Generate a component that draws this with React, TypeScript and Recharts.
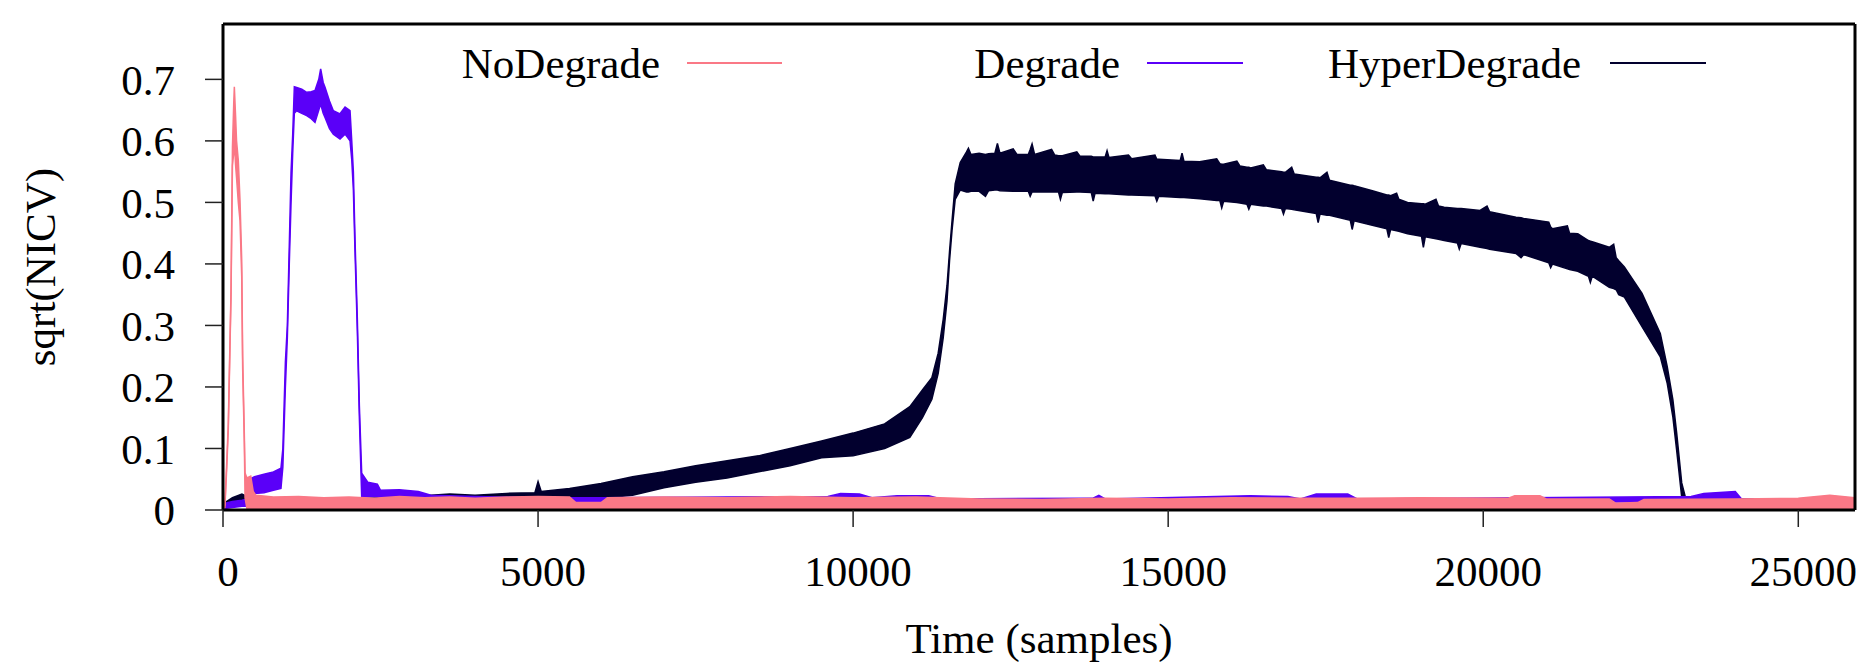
import React from 'react';
import { ComposedChart, Area, XAxis, YAxis } from 'recharts';

const FONT = "'Liberation Serif', 'Times New Roman', serif";

// ---- categories / ticks ----
const X_TICKS = [0, 5000, 10000, 15000, 20000, 25000];
const Y_TICKS = [0, 0.1, 0.2, 0.3, 0.4, 0.5, 0.6, 0.7];
const X_DOMAIN = [0, 25900];
const Y_DOMAIN = [0, 0.79];

const SERIES_NAMES = ['NoDegrade', 'Degrade', 'HyperDegrade'];
const SERIES_COLORS = ['#fa7886', '#5a00f8', '#02002e'];

// ---- series values: [sample, low envelope, high envelope] ----
const noDegrade: number[][] = [
  [0, 0.0, 0.004], [30, 0.004, 0.008], [60, 0.07, 0.08], [84, 0.13, 0.14],
  [127, 0.345, 0.355], [150, 0.56, 0.59], [170, 0.58, 0.66], [180, 0.6, 0.688],
  [200, 0.56, 0.64], [215, 0.54, 0.6], [243, 0.5, 0.568], [270, 0.47, 0.503],
  [297, 0.38, 0.406], [312, 0.23, 0.25], [338, 0.11, 0.125], [350, 0.02, 0.06],
  [380, 0.002, 0.052], [440, 0.002, 0.055], [480, 0.002, 0.03], [520, 0.002, 0.024],
  [800, 0.002, 0.021], [1200, 0.002, 0.022], [1600, 0.002, 0.02], [2000, 0.002, 0.021],
  [2400, 0.002, 0.019], [2800, 0.002, 0.022], [3200, 0.002, 0.02], [3600, 0.002, 0.021],
  [4000, 0.002, 0.019], [4500, 0.002, 0.021], [5000, 0.002, 0.022], [5500, 0.002, 0.021],
  [5600, 0.002, 0.012], [6000, 0.002, 0.012], [6100, 0.002, 0.02], [7000, 0.002, 0.021],
  [8000, 0.002, 0.02], [9000, 0.002, 0.022], [10000, 0.002, 0.02], [11000, 0.002, 0.021],
  [12000, 0.002, 0.018], [13000, 0.002, 0.017], [14000, 0.002, 0.019], [15000, 0.002, 0.018],
  [16000, 0.002, 0.02], [17000, 0.002, 0.019], [18000, 0.002, 0.019], [19000, 0.002, 0.02],
  [20400, 0.002, 0.019], [20500, 0.002, 0.023], [20900, 0.002, 0.023], [21000, 0.002, 0.018],
  [22000, 0.002, 0.018], [22100, 0.002, 0.011], [22450, 0.002, 0.012], [22550, 0.002, 0.017],
  [24000, 0.002, 0.018], [25000, 0.002, 0.019], [25500, 0.002, 0.024], [25900, 0.002, 0.02],
];

const degrade: number[][] = [
  [0, 0.002, 0.01], [150, 0.004, 0.014], [300, 0.006, 0.016], [400, 0.006, 0.018],
  [420, 0.025, 0.05], [500, 0.027, 0.054], [650, 0.028, 0.058], [800, 0.032, 0.062],
  [920, 0.035, 0.068], [950, 0.07, 0.1], [990, 0.2, 0.24], [1021, 0.28, 0.3],
  [1052, 0.4, 0.43], [1080, 0.5, 0.55], [1106, 0.58, 0.61], [1132, 0.645, 0.688],
  [1169, 0.649, 0.687], [1250, 0.645, 0.684], [1328, 0.641, 0.679], [1400, 0.636, 0.68],
  [1460, 0.63, 0.682], [1520, 0.65, 0.7], [1550, 0.66, 0.717], [1590, 0.645, 0.695],
  [1619, 0.638, 0.687], [1690, 0.62, 0.665], [1751, 0.611, 0.649], [1857, 0.603, 0.644],
  [1937, 0.611, 0.655], [2016, 0.6, 0.649], [2043, 0.57, 0.6], [2069, 0.52, 0.55],
  [2095, 0.42, 0.44], [2132, 0.29, 0.31], [2164, 0.15, 0.17], [2201, 0.022, 0.06],
  [2300, 0.022, 0.045], [2450, 0.022, 0.042], [2500, 0.02, 0.032], [2800, 0.018, 0.033],
  [3100, 0.016, 0.03], [3300, 0.013, 0.024], [4000, 0.012, 0.022], [5000, 0.01, 0.02],
  [6000, 0.01, 0.02], [9600, 0.012, 0.022], [9800, 0.014, 0.027], [10100, 0.014, 0.026],
  [10300, 0.01, 0.02], [10700, 0.012, 0.023], [11200, 0.012, 0.023], [11400, 0.01, 0.018],
  [13800, 0.01, 0.019], [13900, 0.012, 0.024], [14000, 0.01, 0.018], [16300, 0.012, 0.023],
  [16900, 0.012, 0.022], [17100, 0.01, 0.018], [17350, 0.014, 0.026], [17850, 0.014, 0.026],
  [18000, 0.01, 0.018], [23300, 0.014, 0.022], [23500, 0.016, 0.027], [24000, 0.016, 0.03],
  [24100, 0.01, 0.018], [25900, 0.01, 0.018],
];

const hyperDegrade: number[][] = [
  [0, 0.004, 0.01], [150, 0.008, 0.02], [300, 0.01, 0.026], [500, 0.008, 0.016],
  [1000, 0.008, 0.016], [2000, 0.008, 0.018], [3000, 0.012, 0.022], [3600, 0.013, 0.026],
  [4000, 0.014, 0.024], [4500, 0.014, 0.027], [4950, 0.014, 0.028], [5000, 0.015, 0.046],
  [5050, 0.014, 0.03], [5500, 0.013, 0.035], [6000, 0.019, 0.043], [6500, 0.024, 0.054],
  [7000, 0.036, 0.062], [7500, 0.045, 0.072], [8000, 0.052, 0.08], [8500, 0.062, 0.088],
  [9000, 0.072, 0.1], [9500, 0.085, 0.112], [10000, 0.088, 0.125], [10500, 0.1, 0.14],
  [10900, 0.118, 0.168], [11100, 0.15, 0.195], [11250, 0.18, 0.215], [11350, 0.222, 0.255],
  [11430, 0.28, 0.31], [11490, 0.34, 0.365], [11530, 0.405, 0.42], [11570, 0.455, 0.47],
  [11620, 0.505, 0.53], [11700, 0.52, 0.565], [11800, 0.517, 0.582], [11830, 0.517, 0.588],
  [11870, 0.518, 0.578], [12000, 0.518, 0.58], [12100, 0.51, 0.578], [12150, 0.519, 0.579],
  [12250, 0.52, 0.58], [12290, 0.52, 0.596], [12330, 0.519, 0.58], [12540, 0.518, 0.587],
  [12600, 0.518, 0.578], [12780, 0.518, 0.578], [12810, 0.51, 0.586], [12840, 0.517, 0.595],
  [12880, 0.517, 0.578], [13150, 0.517, 0.586], [13200, 0.517, 0.577], [13260, 0.517, 0.576],
  [13290, 0.505, 0.576], [13320, 0.516, 0.576], [13550, 0.517, 0.582], [13600, 0.517, 0.575],
  [13780, 0.516, 0.575], [13810, 0.502, 0.574], [13840, 0.515, 0.574], [14000, 0.514, 0.574],
  [14030, 0.514, 0.584], [14060, 0.514, 0.573], [14370, 0.512, 0.577], [14420, 0.512, 0.571],
  [14790, 0.511, 0.577], [14820, 0.502, 0.57], [14850, 0.51, 0.57], [15190, 0.508, 0.568],
  [15220, 0.508, 0.58], [15250, 0.508, 0.567], [15500, 0.506, 0.566], [15770, 0.503, 0.571],
  [15820, 0.503, 0.563], [15850, 0.491, 0.562], [15880, 0.502, 0.562], [16090, 0.5, 0.567],
  [16140, 0.499, 0.559], [16250, 0.497, 0.557], [16280, 0.489, 0.557], [16310, 0.497, 0.556],
  [16510, 0.494, 0.561], [16560, 0.494, 0.553], [16800, 0.49, 0.55], [16830, 0.481, 0.549],
  [16860, 0.49, 0.549], [16960, 0.489, 0.557], [17000, 0.488, 0.546], [17350, 0.482, 0.541],
  [17380, 0.467, 0.541], [17410, 0.481, 0.54], [17520, 0.479, 0.549], [17560, 0.479, 0.536],
  [17890, 0.471, 0.528], [17920, 0.456, 0.528], [17950, 0.47, 0.527], [18240, 0.463, 0.519],
  [18470, 0.457, 0.512], [18500, 0.443, 0.512], [18530, 0.456, 0.511], [18625, 0.454, 0.515],
  [18660, 0.453, 0.505], [18800, 0.449, 0.5], [19020, 0.445, 0.498], [19050, 0.427, 0.498],
  [19080, 0.444, 0.497], [19250, 0.441, 0.505], [19290, 0.44, 0.494], [19380, 0.438, 0.492],
  [19590, 0.434, 0.49], [19620, 0.424, 0.49], [19650, 0.433, 0.49], [19950, 0.427, 0.487],
  [20060, 0.425, 0.494], [20100, 0.424, 0.485], [20520, 0.417, 0.476], [20600, 0.41, 0.475],
  [20640, 0.415, 0.474], [21040, 0.402, 0.468], [21070, 0.394, 0.46], [21100, 0.4, 0.457],
  [21335, 0.392, 0.462], [21370, 0.391, 0.45], [21500, 0.388, 0.449], [21670, 0.38, 0.438],
  [21700, 0.37, 0.437], [21730, 0.38, 0.436], [22000, 0.362, 0.427], [22070, 0.36, 0.432],
  [22110, 0.358, 0.41], [22150, 0.35, 0.405], [22240, 0.346, 0.395], [22520, 0.298, 0.352],
  [22810, 0.249, 0.287], [22920, 0.206, 0.233], [23010, 0.151, 0.179], [23070, 0.097, 0.125],
  [23150, 0.021, 0.044], [23210, 0.016, 0.02], [23500, 0.016, 0.02], [24000, 0.012, 0.018],
  [25900, 0.012, 0.018],
];

// legend layout (pixel positions of the in-plot key)
const LEGEND_LAYOUT = [
  { textRight: 660, x1: 687, x2: 782 },
  { textRight: 1120, x1: 1147, x2: 1243 },
  { textRight: 1581, x1: 1610, x2: 1706 },
];

const toRows = (arr: number[][]) => arr.map(([s, lo, hi]) => ({ s, v: [lo, hi] }));

const W = 1864;
const H = 662;

const fmtY = (v: number) => (v === 0 ? '0' : v.toFixed(1));

const YLabel = (props: any) => {
  const vb = props && props.viewBox ? props.viewBox : { x: 0, y: 24, width: 223, height: 486 };
  const cx = vb.x + 40;
  const cy = vb.y + vb.height / 2;
  return (
    <text
      x={cx}
      y={cy}
      transform={`rotate(-90, ${cx}, ${cy})`}
      textAnchor="middle"
      dominantBaseline="central"
      fontSize={43}
      fontFamily={FONT}
      fill="#000"
    >
      sqrt(NICV)
    </text>
  );
};

export default function App() {
  const series = [
    { name: SERIES_NAMES[2], color: SERIES_COLORS[2], data: toRows(hyperDegrade) },
    { name: SERIES_NAMES[1], color: SERIES_COLORS[1], data: toRows(degrade) },
    { name: SERIES_NAMES[0], color: SERIES_COLORS[0], data: toRows(noDegrade) },
  ];
  const tickStyle = { fontSize: 43, fill: '#000', fontFamily: FONT };
  const axisLine = { stroke: '#000', strokeWidth: 3 };
  const tickLine = { stroke: '#222', strokeWidth: 1.5 };

  return (
    <div style={{ position: 'absolute', left: 0, top: 0, width: W, height: H, background: '#fff' }}>
      <ComposedChart width={W} height={H} margin={{ top: 0, right: 0, bottom: 0, left: 0 }}>
        <XAxis
          xAxisId="main"
          dataKey="s"
          type="number"
          domain={X_DOMAIN}
          ticks={X_TICKS}
          allowDataOverflow
          orientation="bottom"
          height={152}
          tickSize={17}
          tickMargin={28}
          tick={{ ...tickStyle, dx: 5 }}
          axisLine={axisLine}
          tickLine={tickLine}
          interval={0}
          label={{
            value: 'Time (samples)',
            position: 'insideBottom',
            offset: 9,
            fontSize: 43,
            fontFamily: FONT,
            fill: '#000',
          }}
        />
        <XAxis
          xAxisId="top"
          dataKey="s"
          type="number"
          domain={X_DOMAIN}
          ticks={X_TICKS}
          allowDataOverflow
          orientation="top"
          height={24}
          tickSize={17}
          tick={false}
          axisLine={axisLine}
          tickLine={tickLine}
          interval={0}
        />
        <YAxis
          yAxisId="main"
          type="number"
          domain={Y_DOMAIN}
          ticks={Y_TICKS}
          allowDataOverflow
          orientation="left"
          width={223}
          tickSize={18}
          tickMargin={30}
          tick={tickStyle}
          tickFormatter={fmtY}
          axisLine={axisLine}
          tickLine={tickLine}
          interval={0}
          label={YLabel}
        />
        <YAxis
          yAxisId="right"
          type="number"
          domain={Y_DOMAIN}
          ticks={Y_TICKS}
          allowDataOverflow
          orientation="right"
          width={9}
          tickSize={17}
          tick={false}
          axisLine={axisLine}
          tickLine={tickLine}
          interval={0}
        />
        {series.map((sr) => (
          <Area
            key={sr.name}
            name={sr.name}
            data={sr.data}
            dataKey="v"
            xAxisId="main"
            yAxisId="main"
            type="linear"
            stroke={sr.color}
            strokeWidth={1.5}
            fill={sr.color}
            fillOpacity={1}
            dot={false}
            activeDot={false}
            isAnimationActive={false}
          />
        ))}
      </ComposedChart>
      <svg
        width={W}
        height={H}
        style={{ position: 'absolute', left: 0, top: 0, pointerEvents: 'none' }}
      >
        {SERIES_NAMES.map((name, i) => (
          <g key={name}>
            <text
              x={LEGEND_LAYOUT[i].textRight}
              y={78}
              textAnchor="end"
              fontSize={43}
              fontFamily={FONT}
              fill="#000"
            >
              {name}
            </text>
            <line
              x1={LEGEND_LAYOUT[i].x1}
              x2={LEGEND_LAYOUT[i].x2}
              y1={63}
              y2={63}
              stroke={SERIES_COLORS[i]}
              strokeWidth={2}
            />
          </g>
        ))}
      </svg>
    </div>
  );
}
